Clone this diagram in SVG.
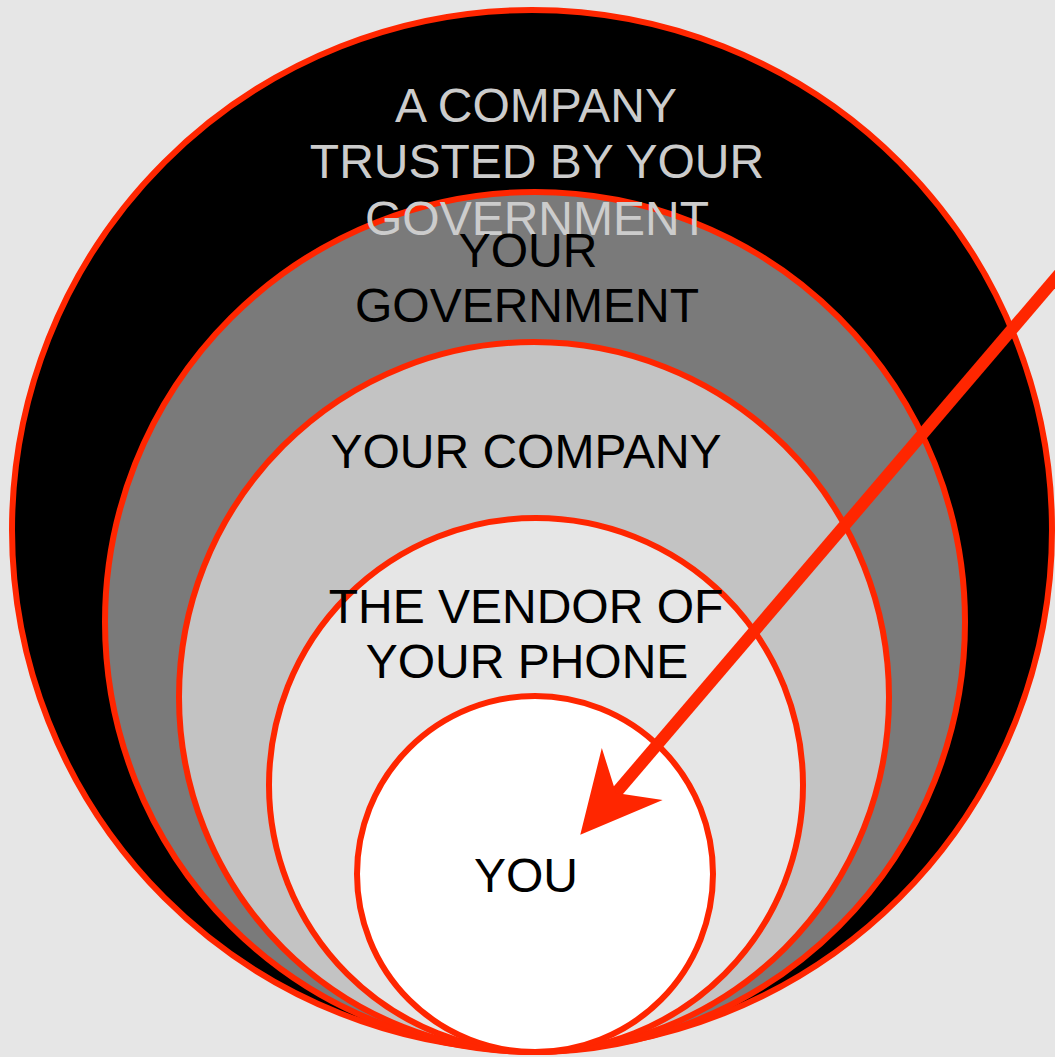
<svg xmlns="http://www.w3.org/2000/svg" width="1055" height="1057" viewBox="0 0 1055 1057">
  <style>
    .ring { stroke: #ff2600; stroke-width: 6; }
    .label { font-family: "Liberation Sans", Arial, sans-serif; font-size: 48px; text-anchor: middle; }
    .dark { fill: #000000; }
    .light { fill: #cccccc; }
    .arrow { stroke: #ff2600; stroke-width: 12; fill: none; }
  </style>
  <defs>
    <marker id="head" markerUnits="userSpaceOnUse" viewBox="-30 -45 90 90" markerWidth="90" markerHeight="90" refX="10" refY="0" orient="auto">
      <path d="M55,0 L-25,-40 L0,0 L-25,40 Z" fill="#ff2600"/>
    </marker>
  </defs>

  <rect x="0" y="0" width="1055" height="1057" fill="#e6e6e6"/>

  <!-- nested trust circles, all touching at the bottom -->
  <g id="trusted-company">
    <circle class="ring" cx="532" cy="530" r="520" fill="#000000"/>
  </g>
  <g id="government">
    <circle class="ring" cx="535" cy="622" r="430" fill="#7a7a7a"/>
  </g>
  <g id="company">
    <circle class="ring" cx="534" cy="697" r="355" fill="#c3c3c3"/>
  </g>
  <g id="vendor">
    <circle class="ring" cx="536" cy="785" r="267" fill="#e6e6e6"/>
  </g>
  <g id="you">
    <circle class="ring" cx="535" cy="874" r="178" fill="#ffffff"/>
  </g>

  <!-- labels -->
  <g id="trusted-company-label">
    <text class="label light" x="536" y="122">A COMPANY</text>
    <text class="label light" x="537" y="178">TRUSTED BY YOUR</text>
    <text class="label light" x="537" y="235">GOVERNMENT</text>
  </g>
  <g id="government-label">
    <text class="label dark" x="528" y="267">YOUR</text>
    <text class="label dark" x="527" y="322">GOVERNMENT</text>
  </g>
  <g id="company-label">
    <text class="label dark" x="526" y="468">YOUR COMPANY</text>
  </g>
  <g id="vendor-label">
    <text class="label dark" x="526" y="623">THE VENDOR OF</text>
    <text class="label dark" x="527" y="678">YOUR PHONE</text>
  </g>
  <g id="you-label">
    <text class="label dark" x="526" y="892">YOU</text>
  </g>

  <!-- incoming arrow -->
  <g id="connectors">
    <line class="arrow" x1="1090" y1="238" x2="609.5" y2="800.6" marker-end="url(#head)"/>
  </g>
</svg>
